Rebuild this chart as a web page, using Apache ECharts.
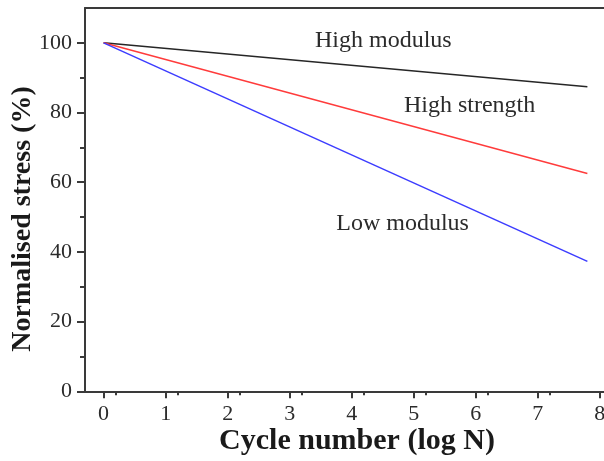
<!DOCTYPE html>
<html>
<head>
<meta charset="utf-8">
<script src="https://cdn.jsdelivr.net/npm/echarts@6/dist/echarts.min.js"></script>
<style>
  html, body { margin: 0; padding: 0; background: #ffffff; }
  #chart { width: 604px; height: 461px; }
</style>
</head>
<body>
<div id="chart"></div>
<script>
// Cycle number on log scale (log N) at the start and end of each curve
const logN = [0, 7.8];

// Normalised stress (%) for each fibre type
const highModulus  = [100, 87.4];
const highStrength = [100, 62.5];
const lowModulus   = [100, 37.3];

// Axis tick values
const xTicks = [0, 1, 2, 3, 4, 5, 6, 7, 8];
const yTicks = [0, 20, 40, 60, 80, 100];

const seriesNames = ['High modulus', 'High strength', 'Low modulus'];
const xTitle = 'Cycle number (log N)';
const yTitle = 'Normalised stress (%)';

const FONT = '"Liberation Serif", "Times New Roman", serif';
const TEXT = '#2b2b2b';
const AXIS = '#3a3a3a';

const chart = echarts.init(document.getElementById('chart'), null, { renderer: 'canvas' });

function pairs(xs, ys) {
  return xs.map((x, i) => [x, ys[i]]);
}

const lineSeries = (name, values, color) => ({
  name: name,
  type: 'line',
  data: pairs(logN, values),
  showSymbol: false,
  symbol: 'none',
  lineStyle: { color: color, width: 1.5 },
  z: 3
});

chart.setOption({
  backgroundColor: '#ffffff',
  animation: false,
  grid: {
    left: 85, top: 8, width: 521, height: 383.3,
    containLabel: false,
    outerBoundsMode: 'none'
  },
  xAxis: [{
    type: 'value',
    min: -0.3,
    max: 8.1,
    interval: 1,
    axisLine: { show: true, onZero: false, lineStyle: { color: AXIS, width: 2 } },
    axisTick: {
      show: true, inside: false, length: 7,
      lineStyle: { color: AXIS, width: 2 },
      customValues: xTicks
    },
    minorTick: { show: true, splitNumber: 2, length: 4, lineStyle: { color: AXIS, width: 2 } },
    splitLine: { show: false },
    axisLabel: {
      margin: 12,
      color: TEXT,
      fontFamily: FONT,
      fontSize: 22,
      customValues: xTicks,
      formatter: v => String(v)
    }
  }, {
    // top frame line
    type: 'value',
    position: 'top',
    min: -0.3,
    max: 8.1,
    axisLine: { show: true, onZero: false, lineStyle: { color: AXIS, width: 2 } },
    axisTick: { show: false },
    axisLabel: { show: false },
    splitLine: { show: false }
  }],
  yAxis: {
    type: 'value',
    min: 0,
    max: 110,
    interval: 20,
    axisLine: { show: true, onZero: false, lineStyle: { color: AXIS, width: 2 } },
    axisTick: {
      show: true, inside: false, length: 8,
      lineStyle: { color: AXIS, width: 2 },
      customValues: yTicks
    },
    minorTick: { show: true, splitNumber: 2, length: 5, lineStyle: { color: AXIS, width: 2 } },
    splitLine: { show: false },
    axisLabel: {
      margin: 13,
      color: TEXT,
      fontFamily: FONT,
      fontSize: 22,
      customValues: yTicks
    }
  },
  series: [
    lineSeries(seriesNames[0], highModulus, '#262626'),
    lineSeries(seriesNames[1], highStrength, '#ff3b3b'),
    lineSeries(seriesNames[2], lowModulus, '#3c3cff')
  ]
});

// Curve labels, anchored in data coordinates (log N, stress %)
const labelAnchors = [
  [4.51, 100.7],
  [5.90, 81.9],
  [4.82, 48.1]
];

const curveLabels = seriesNames.map((name, i) => {
  const p = chart.convertToPixel({ xAxisIndex: 0, yAxisIndex: 0 }, labelAnchors[i]);
  return {
    type: 'text',
    x: p[0],
    y: p[1],
    z: 10,
    style: {
      text: name,
      fill: TEXT,
      font: '24px ' + FONT,
      textAlign: 'center',
      textVerticalAlign: 'middle'
    }
  };
});

// Axis titles
const titles = [
  {
    type: 'text',
    x: 357,
    y: 441,
    z: 10,
    style: {
      text: xTitle,
      fill: '#1a1a1a',
      font: 'bold 30px ' + FONT,
      textAlign: 'center',
      textVerticalAlign: 'middle'
    }
  },
  {
    type: 'text',
    x: 22.5,
    y: 219,
    rotation: Math.PI / 2,
    z: 10,
    style: {
      text: yTitle,
      fill: '#1a1a1a',
      font: 'bold 28px ' + FONT,
      textAlign: 'center',
      textVerticalAlign: 'middle'
    }
  }
];

chart.setOption({ graphic: curveLabels.concat(titles) });
</script>
</body>
</html>
